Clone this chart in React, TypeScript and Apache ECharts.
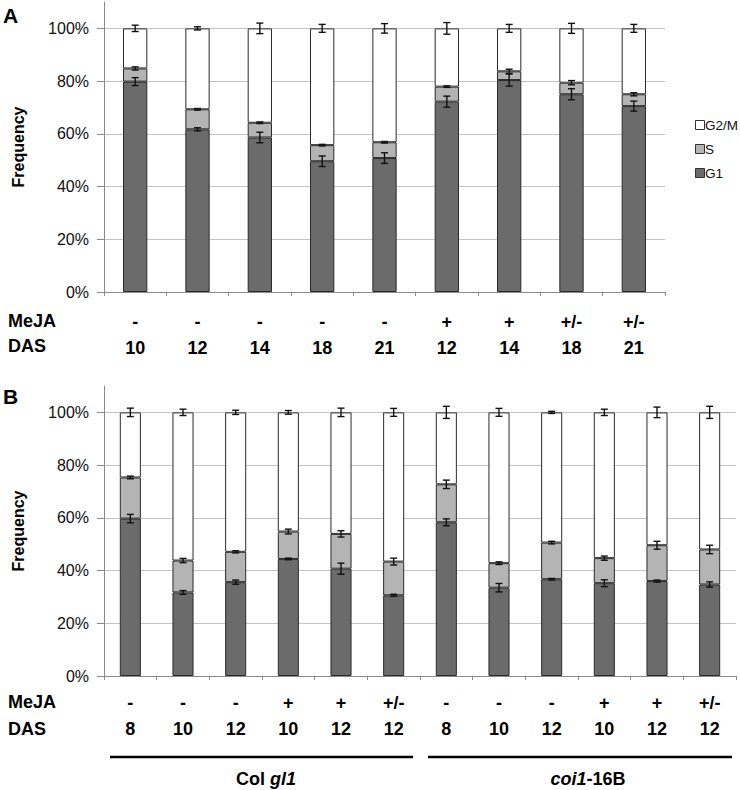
import React, { useEffect, useRef } from "react";
import * as echarts from "echarts";

// ---- Panel A data ----
const mejaA = ["-", "-", "-", "-", "-", "+", "+", "+/-", "+/-"];
const dasA = ["10", "12", "14", "18", "21", "12", "14", "18", "21"];
const g1A = [79.8, 61.7, 58.6, 49.6, 50.8, 72.2, 80.4, 75.0, 70.5];
const sA = [5.0, 7.6, 5.6, 6.1, 6.0, 5.7, 3.3, 4.4, 4.5];
const g2mA = [15.2, 30.7, 35.8, 44.3, 43.2, 22.1, 16.3, 20.6, 25.0];
const g1ErrA = [1.5, 0.6, 2.0, 2.0, 2.0, 2.1, 2.3, 2.1, 1.9];
const sErrA = [0.6, 0.3, 0.3, 0.3, 0.3, 0.3, 0.8, 0.8, 0.6];
const g2mErrA = [1.2, 0.6, 2.0, 1.5, 1.8, 2.2, 1.5, 1.9, 1.5];

// ---- Panel B data ----
const mejaB = ["-", "-", "-", "+", "+", "+/-", "-", "-", "-", "+", "+", "+/-"];
const dasB = ["8", "10", "12", "10", "12", "12", "8", "10", "12", "10", "12", "12"];
const g1B = [59.7, 31.7, 35.6, 44.4, 40.7, 30.6, 58.3, 33.5, 36.7, 35.2, 36.0, 34.7];
const sB = [15.6, 12.1, 11.5, 10.4, 13.2, 12.8, 14.4, 9.3, 13.9, 9.5, 13.6, 13.3];
const g2mB = [24.7, 56.2, 52.9, 45.2, 46.1, 56.6, 27.3, 57.2, 49.4, 55.3, 50.4, 52.0];
const g1ErrB = [1.6, 0.7, 0.8, 0.3, 2.1, 0.4, 1.3, 1.6, 0.3, 1.3, 0.4, 1.0];
const sErrB = [0.5, 0.8, 0.4, 0.9, 1.2, 1.3, 1.6, 0.5, 0.5, 0.8, 1.5, 1.6];
const g2mErrB = [1.6, 1.2, 0.8, 0.7, 1.6, 1.5, 2.3, 1.5, 0.4, 1.2, 2.0, 2.3];

const seriesNames = ["G1", "S", "G2/M"];
const legendOrder = ["G2/M", "S", "G1"];
const yTicks = { min: 0, max: 110, interval: 20 };

const FONT = '"Liberation Sans", Arial, Helvetica, sans-serif';
const COLORS: Record<string, string> = { G1: "#6b6b6b", S: "#b4b4b4", "G2/M": "#ffffff" };

function errData(g1: number[], s: number[], g2m: number[], e1: number[], es: number[], eg: number[]) {
  const out: number[][] = [];
  g1.forEach((v, i) => {
    out.push([i, v, e1[i]]);
    out.push([i, v + s[i], es[i]]);
    out.push([i, v + s[i] + g2m[i], eg[i]]);
  });
  return out;
}

const renderErr = (params: any, api: any) => {
  const x = api.value(0);
  const top = api.value(1);
  const err = api.value(2);
  const hi = api.coord([x, top + err]);
  const lo = api.coord([x, top - err]);
  const hw = 3.5;
  const st = { stroke: "#111", lineWidth: 1.4 };
  return {
    type: "group",
    children: [
      { type: "line", shape: { x1: hi[0], y1: hi[1], x2: lo[0], y2: lo[1] }, style: st },
      { type: "line", shape: { x1: hi[0] - hw, y1: hi[1], x2: hi[0] + hw, y2: hi[1] }, style: st },
      { type: "line", shape: { x1: lo[0] - hw, y1: lo[1], x2: lo[0] + hw, y2: lo[1] }, style: st },
    ],
  };
};

function makeX(gridIndex: number, meja: string[], das: string[], margin: number) {
  return {
    type: "category",
    gridIndex,
    data: das.map((d, i) => i),
    axisLine: { lineStyle: { color: "#8a8a8a", width: 1 } },
    axisTick: { show: true, interval: 0, length: 4, lineStyle: { color: "#8a8a8a" } },
    axisLabel: {
      interval: 0,
      margin,
      fontFamily: FONT,
      fontSize: 18,
      fontWeight: "bold",
      color: "#000",
      lineHeight: 26,
      formatter: (v: any, i: number) => `${meja[i]}\n${das[i]}`,
    },
  };
}

function makeY(gridIndex: number) {
  return {
    type: "value",
    gridIndex,
    min: yTicks.min,
    max: yTicks.max,
    interval: yTicks.interval,
    name: "Frequency",
    nameLocation: "middle",
    nameRotate: 90,
    nameGap: 78,
    nameTextStyle: { fontFamily: FONT, fontSize: 16, fontWeight: "bold", color: "#000" },
    axisLine: { show: true, lineStyle: { color: "#8a8a8a", width: 1 } },
    axisTick: { show: true, length: 7, lineStyle: { color: "#8a8a8a" } },
    axisLabel: {
      fontFamily: FONT,
      fontSize: 16,
      color: "#111",
      margin: 15,
      showMaxLabel: false,
      formatter: (v: number) => (v > 100 ? "" : `${v}%`),
    },
    splitLine: { show: true, showMaxLine: false, lineStyle: { color: "#c4c4c4", width: 1 } },
  };
}

function barSeries(idx: number, stack: string, data: number[], name: string, width: string) {
  return {
    type: "bar",
    name,
    stack,
    xAxisIndex: idx,
    yAxisIndex: idx,
    barWidth: width,
    data,
    itemStyle: { color: COLORS[name], borderColor: "#2a2a2a", borderWidth: 1 },
    emphasis: { disabled: true },
  };
}

function legendGraphics() {
  const out: any[] = [];
  legendOrder.forEach((name, i) => {
    const cy = 125 + i * 24;
    out.push({
      type: "rect",
      shape: { x: 695.5, y: cy - 4.5, width: 9, height: 9 },
      style: { fill: COLORS[name], stroke: "#333", lineWidth: 1 },
    });
    out.push({
      type: "text",
      x: 705,
      y: cy,
      style: { text: name, font: `13.5px ${FONT}`, fill: "#111", verticalAlign: "middle", align: "left" },
    });
  });
  return out;
}

export default function App() {
  const ref = useRef<HTMLDivElement>(null);
  useEffect(() => {
    const chart = echarts.init(ref.current!, null, { renderer: "svg" });
    const option: any = {
      animation: false,
      backgroundColor: "#fff",
      textStyle: { fontFamily: FONT },
      grid: [
        { left: 104, top: 2, width: 561, height: 290 },
        { left: 104, top: 386, width: 632, height: 290 },
      ],
      xAxis: [makeX(0, mejaA, dasA, 17), makeX(1, mejaB, dasB, 14)],
      yAxis: [makeY(0), makeY(1)],
      series: [
        barSeries(0, "A", g1A, seriesNames[0], "39%"),
        barSeries(0, "A", sA, seriesNames[1], "39%"),
        barSeries(0, "A", g2mA, seriesNames[2], "39%"),
        barSeries(1, "B", g1B, seriesNames[0], "40%"),
        barSeries(1, "B", sB, seriesNames[1], "40%"),
        barSeries(1, "B", g2mB, seriesNames[2], "40%"),
        {
          type: "custom",
          name: "errA",
          xAxisIndex: 0,
          yAxisIndex: 0,
          z: 5,
          renderItem: renderErr,
          encode: { x: 0, y: 1 },
          data: errData(g1A, sA, g2mA, g1ErrA, sErrA, g2mErrA),
        },
        {
          type: "custom",
          name: "errB",
          xAxisIndex: 1,
          yAxisIndex: 1,
          z: 5,
          renderItem: renderErr,
          encode: { x: 0, y: 1 },
          data: errData(g1B, sB, g2mB, g1ErrB, sErrB, g2mErrB),
        },
      ],
      graphic: [
        ...legendGraphics(),
        { type: "text", left: 3, top: 5, style: { text: "A", font: `bold 21px ${FONT}`, fill: "#000" } },
        { type: "text", left: 3, top: 386, style: { text: "B", font: `bold 21px ${FONT}`, fill: "#000" } },
        { type: "text", left: 8, top: 312, style: { text: "MeJA", font: `bold 18px ${FONT}`, fill: "#000" } },
        { type: "text", left: 8, top: 337, style: { text: "DAS", font: `bold 18px ${FONT}`, fill: "#000" } },
        { type: "text", left: 8, top: 693, style: { text: "MeJA", font: `bold 18px ${FONT}`, fill: "#000" } },
        { type: "text", left: 8, top: 720, style: { text: "DAS", font: `bold 18px ${FONT}`, fill: "#000" } },
        { type: "line", shape: { x1: 110, y1: 757, x2: 413, y2: 757 }, style: { stroke: "#000", lineWidth: 2.5 } },
        { type: "line", shape: { x1: 428, y1: 757, x2: 732, y2: 757 }, style: { stroke: "#000", lineWidth: 2.5 } },
        {
          type: "text",
          x: 266,
          y: 779,
          style: {
            text: "{n|Col }{i|gl1}",
            align: "center",
            verticalAlign: "middle",
            rich: {
              n: { fontFamily: FONT, fontSize: 18, fontWeight: "bold", fill: "#000" },
              i: { fontFamily: FONT, fontSize: 18, fontWeight: "bold", fontStyle: "italic", fill: "#000" },
            },
          },
        },
        {
          type: "text",
          x: 588,
          y: 779,
          style: {
            text: "{i|coi1}{n|-16B}",
            align: "center",
            verticalAlign: "middle",
            rich: {
              n: { fontFamily: FONT, fontSize: 18, fontWeight: "bold", fill: "#000" },
              i: { fontFamily: FONT, fontSize: 18, fontWeight: "bold", fontStyle: "italic", fill: "#000" },
            },
          },
        },
      ],
    };
    chart.setOption(option);
    return () => chart.dispose();
  }, []);
  return (
    <div
      ref={ref}
      style={{ position: "fixed", left: 0, top: 0, width: 740, height: 790, background: "#fff" }}
    />
  );
}
